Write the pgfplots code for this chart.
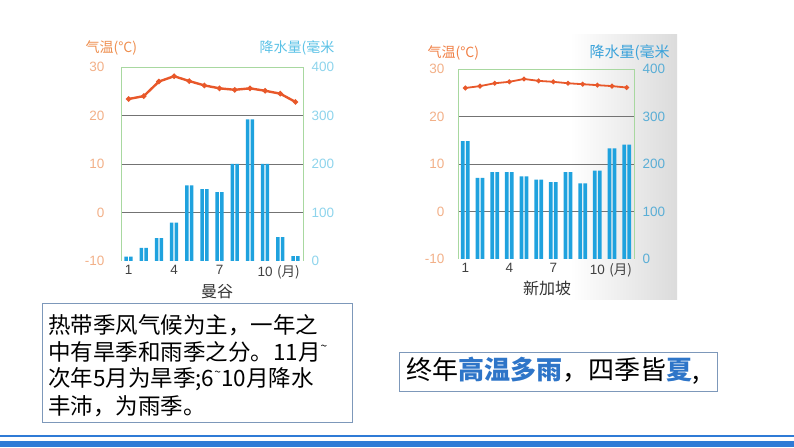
\documentclass[border=0pt]{standalone}
\usepackage{pgfplots}
\pgfplotsset{compat=1.18}
\usepackage{fontspec}
\setmainfont{Liberation Sans}
\newfontfamily\cjk{Noto Sans CJK SC}
\definecolor{barc}{HTML}{1FA2DE}
\definecolor{linec}{HTML}{E8582A}
\definecolor{framec}{HTML}{A8D8A0}
\definecolor{tempt}{HTML}{F2B088}
\definecolor{temptitle}{HTML}{EE8E4E}
\definecolor{prect}{HTML}{8ED4EC}
\definecolor{prectitle}{HTML}{5CC2E6}
\definecolor{prect2}{HTML}{5AAED6}
\definecolor{prectitle2}{HTML}{3AA2DA}
\definecolor{hl}{HTML}{2E75C8}
\definecolor{boxc}{HTML}{7D98BA}
\definecolor{bottomc}{HTML}{2F7BD6}
\pgfplotsset{
  base/.style={scale only axis, xmin=0.5, xmax=12.5,
    axis line style={draw=none}, tick style={draw=none},
    /pgf/number format/assume math mode=true,
    ticklabel style={font=\fontsize{13.5}{13.5}\selectfont},
    clip=false},
  tempax/.style={base, ymin=-10, ymax=30, ytick={-10,0,10,20,30},
    xtick={1,4,7,10}, xticklabels={1,4,7,{10\rlap{\,\,{\cjk(月)}}}},
    xticklabel style={text=black!75, yshift=-1pt},
    extra y ticks={0,10,20}, extra y tick labels={},
    extra y tick style={grid=major, major grid style={black!55, line width=0.8pt}}},
  precax/.style={base, ymin=0, ymax=400, ytick={0,100,200,300,400},
    yticklabel pos=right, xtick=\empty},
}
\begin{document}
\begin{tikzpicture}[x=1pt,y=1pt]
\useasboundingbox (0,0) rectangle (794,447);
% Singapore background shading
\shade[left color=white, right color=black!14] (570,147) rectangle (677,412);

% ---------- Bangkok ----------
\begin{axis}[tempax, at={(121pt,186pt)}, anchor=south west, width=182pt, height=194pt,
  yticklabel style={text=tempt, xshift=-13pt}]
\addplot[linec, line width=2.4pt, mark=*, mark size=1.3pt] coordinates {
(1,23.4) (2,24.0) (3,27.0) (4,28.1) (5,27.1) (6,26.2) (7,25.6) (8,25.3) (9,25.6) (10,25.1) (11,24.5) (12,22.8)};
\end{axis}
\begin{axis}[precax, at={(121pt,186pt)}, anchor=south west, width=182pt, height=194pt,
  yticklabel style={text=prect, xshift=5pt}]
\addplot[ybar, bar width=3.5pt, bar shift=-2.4pt, fill=barc, draw=none] coordinates {
(1,9) (2,27) (3,47) (4,79) (5,156) (6,148) (7,142) (8,200) (9,292) (10,200) (11,49) (12,10)};
\addplot[ybar, bar width=3.5pt, bar shift=2.4pt, fill=barc, draw=none] coordinates {
(1,9) (2,27) (3,47) (4,79) (5,156) (6,148) (7,142) (8,200) (9,292) (10,200) (11,49) (12,10)};
\draw[framec, line width=0.9pt] (rel axis cs:0,0) -- (rel axis cs:0,1) -- (rel axis cs:1,1) -- (rel axis cs:1,0);
\end{axis}
\node[anchor=west, text=temptitle, font=\cjk\fontsize{14}{14}\selectfont] at (82,399) {气温(°C)};
\node[anchor=west, text=prectitle, font=\cjk\fontsize{14}{14}\selectfont] at (256,399) {降水量(毫米};
\node[text=black!80, font=\cjk\fontsize{16}{16}\selectfont] at (217,155) {曼谷};

% ---------- Singapore ----------
\begin{axis}[tempax, at={(458pt,188pt)}, anchor=south west, width=176pt, height=190pt,
  yticklabel style={text=tempt, xshift=-10pt}]
\addplot[linec, line width=1.8pt, mark=*, mark size=1.4pt] coordinates {
(1,26.0) (2,26.4) (3,27.0) (4,27.3) (5,27.9) (6,27.5) (7,27.3) (8,27.0) (9,26.8) (10,26.6) (11,26.4) (12,26.1)};
\end{axis}
\begin{axis}[precax, at={(458pt,188pt)}, anchor=south west, width=176pt, height=190pt,
  yticklabel style={text=prect2, xshift=5pt}]
\addplot[ybar, bar width=3.7pt, bar shift=-2.5pt, fill=barc, draw=none] coordinates {
(1,248) (2,171) (3,183) (4,183) (5,174) (6,167) (7,162) (8,183) (9,159) (10,186) (11,233) (12,241)};
\addplot[ybar, bar width=3.7pt, bar shift=2.5pt, fill=barc, draw=none] coordinates {
(1,248) (2,171) (3,183) (4,183) (5,174) (6,167) (7,162) (8,183) (9,159) (10,186) (11,233) (12,241)};
\draw[framec, line width=0.9pt] (rel axis cs:0,0) -- (rel axis cs:0,1) -- (rel axis cs:1,1) -- (rel axis cs:1,0);
\end{axis}
\node[anchor=west, text=temptitle!90!red, font=\cjk\fontsize{14}{14}\selectfont] at (424,394) {气温(°C)};
\node[anchor=west, text=prectitle2, font=\cjk\fontsize{15}{15}\selectfont] at (586,394) {降水量(毫米};
\node[text=black!80, font=\cjk\fontsize{16}{16}\selectfont] at (547,159) {新加坡};

% ---------- text boxes ----------
\draw[boxc, line width=0.8pt] (42,25) rectangle (352,144);
\begin{scope}[every node/.style={anchor=west, inner sep=0pt, font=\cjk\fontsize{22.5}{22.5}\selectfont}]
\node at (48,122) {热带季风气候为主，一年之};
\node at (48,95) {中有旱季和雨季之分。11月\raisebox{0.45em}{\fontsize{12}{12}\selectfont\textasciitilde}};
\node at (48,68) {次年5月为旱季;6\raisebox{0.45em}{\fontsize{12}{12}\selectfont\textasciitilde}10月降水};
\node at (48,41) {丰沛，为雨季。};
\end{scope}
\draw[boxc, line width=0.8pt] (399,56) rectangle (717,95);
\node[anchor=west, inner sep=0pt, font=\cjk\fontsize{26}{26}\selectfont] at (406,76)
  {终年{\bfseries\color{hl}高温多雨}，四季皆{\bfseries\color{hl}夏},};

% ---------- bottom bars ----------
\fill[bottomc] (0,10.2) rectangle (794,11.8);
\fill[bottomc] (0,0) rectangle (794,6);
\end{tikzpicture}
\end{document}
